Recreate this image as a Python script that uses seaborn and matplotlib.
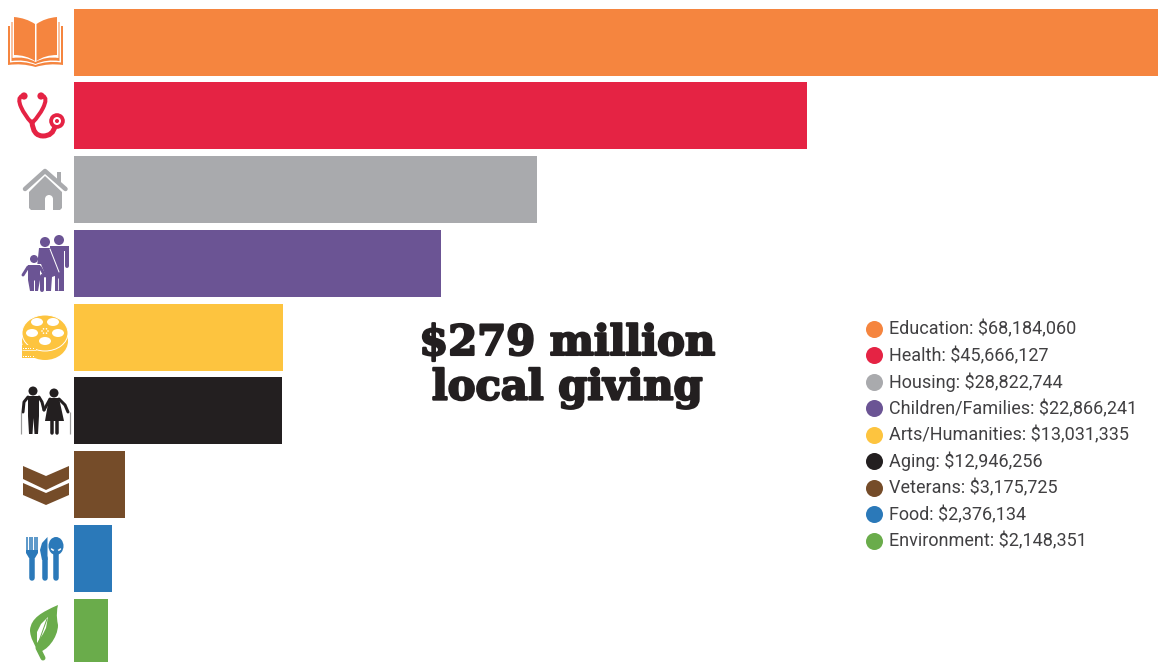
import numpy as np
import pandas as pd
import seaborn as sns
import matplotlib
matplotlib.use("Agg")
import matplotlib.pyplot as plt
from matplotlib.patches import Circle, Ellipse, Polygon, PathPatch, Rectangle
from matplotlib.path import Path
import matplotlib.patheffects as pe

categories = ['Education', 'Health', 'Housing', 'Children/Families', 'Arts/Humanities',
              'Aging', 'Veterans', 'Food', 'Environment']
amounts = [68184060, 45666127, 28822744, 22866241, 13031335, 12946256, 3175725, 2376134, 2148351]
colors = ['#F5853F', '#E52344', '#A9AAAD', '#6B5494', '#FDC43F', '#231F20', '#754C29', '#2B79B9', '#6AAC4B']
headline = '$279 million\nlocal giving'

W, H = 1158, 662
sns.set_theme(style="white")

fig = plt.figure(figsize=(W / 100, H / 100), dpi=100)
fig.patch.set_facecolor('white')

# bars run off the right edge of the page, same as the original
ax = fig.add_axes([74 / W, 0, (W - 74) / W, 1])
df = pd.DataFrame({'category': categories, 'amount': amounts})
sns.barplot(data=df, y='category', x='amount', hue='category', palette=colors,
            order=categories, hue_order=categories, dodge=False, width=0.908,
            saturation=1, legend=False, linewidth=0, ax=ax)
ax.set_xlim(0, 67.54e6)
ax.set_ylim(8.404, -0.572)
ax.axis('off')

# overlay in pixel coordinates for the icons and the headline
ov = fig.add_axes([0, 0, 1, 1], facecolor='none')
ov.set_xlim(0, W)
ov.set_ylim(H, 0)
ov.axis('off')


def line(pts, color, lw=3.0, cap='round'):
    xs, ys = zip(*pts)
    ov.plot(xs, ys, color=color, lw=lw * 0.72, solid_capstyle=cap, solid_joinstyle='round')


def poly(pts, color):
    ov.add_patch(Polygon(pts, closed=True, fc=color, ec='none'))


def curve(verts, codes, color, lw=None, fill=False):
    p = PathPatch(Path(verts, codes), fc=color if fill else 'none', ec=color if not fill else 'none',
                  lw=(lw or 1) * 0.72, capstyle='round')
    ov.add_patch(p)


def book(c):
    M, Q, L = Path.MOVETO, Path.CURVE3, Path.LINETO
    # cover
    curve([(8, 26), (8, 65), (22, 63), (35.5, 67), (49, 63), (63, 65), (63, 26), (8, 26)],
          [M, L, Q, Q, Q, Q, L, L], c, fill=True)
    # white gap between cover and sheets
    curve([(10, 23), (10, 62.5), (24, 60.5), (35.5, 65), (47, 60.5), (61, 62.5), (61, 23), (10, 23)],
          [M, L, Q, Q, Q, Q, L, L], 'white', fill=True)
    curve([(11.5, 22), (11.5, 61), (24, 59), (35.5, 64), (47, 59), (59.5, 61), (59.5, 22), (11.5, 22)],
          [M, L, Q, Q, Q, Q, L, L], c, fill=True)
    curve([(12.5, 20), (12.5, 58), (25, 56), (35.5, 62), (46, 56), (58.5, 58), (58.5, 20), (12.5, 20)],
          [M, L, Q, Q, Q, Q, L, L], 'white', fill=True)
    # pages
    curve([(14, 17), (26, 18), (35, 24), (35, 61), (26, 55), (14, 55), (14, 17)],
          [M, Q, Q, L, Q, Q, L], c, fill=True)
    curve([(57, 17), (45, 18), (36.5, 24), (36.5, 61), (45, 55), (57, 55), (57, 17)],
          [M, Q, Q, L, Q, Q, L], c, fill=True)


def stethoscope(c):
    M, Q = Path.MOVETO, Path.CURVE3
    curve([(22, 96), (17, 98), (21, 107), (25, 116), (31, 122)], [M, Q, Q, Q, Q], c, lw=4)
    curve([(43, 96), (48, 98), (43, 108), (39, 116), (33, 122)], [M, Q, Q, Q, Q], c, lw=4)
    curve([(32, 122), (33, 136), (43, 136), (53, 136), (55, 126)], [M, Q, Q, Q, Q], c, lw=5)
    ov.add_patch(Circle((24, 96), 3.6, fc=c, ec='none'))
    ov.add_patch(Circle((41, 96), 3.6, fc=c, ec='none'))
    ov.add_patch(Circle((57, 121), 7.8, fc=c, ec='none'))
    ov.add_patch(Circle((57, 121), 4, fc='white', ec='none'))
    ov.add_patch(Circle((57, 121), 2, fc=c, ec='none'))


def house(c):
    poly([(57, 172), (61, 172), (61, 185), (57, 182)], c)
    poly([(29, 192), (45, 176), (62, 192), (62, 208), (60, 210), (31, 210), (29, 208)], c)
    line([(25, 189), (45, 171), (65.5, 189)], c, lw=4.5)
    ov.add_patch(Rectangle((45, 199), 8, 11, fc='white', ec='none'))
    ov.add_patch(Circle((49, 199), 4, fc='white', ec='none'))


def family(c):
    # man
    ov.add_patch(Circle((59, 240), 5, fc=c, ec='none'))
    poly([(50, 246), (69, 246), (69, 251), (64, 251), (64, 291), (55, 291), (55, 270), (50, 252)], c)
    line([(67, 249), (67, 266)], c, lw=4)
    line([(58, 278), (58, 290)], 'white', lw=0.8, cap='butt')
    # woman
    ov.add_patch(Circle((45, 242), 5, fc=c, ec='none'))
    poly([(39, 248), (50, 248), (60, 274), (52, 277), (51, 291), (46, 291), (46, 277), (36, 277)], c)
    line([(50, 249), (59, 272)], 'white', lw=1)
    line([(42, 276), (42, 290)], c, lw=4)
    # child, white outline keeps it apart from the woman
    poly([(27, 264), (41, 264), (46, 277), (41, 291), (28, 291)], 'white')
    ov.add_patch(Circle((34, 259), 4, fc=c, ec='none'))
    poly([(28, 265), (40, 265), (40, 280), (38, 291), (30, 291), (28, 280)], c)
    line([(28, 267), (23, 275)], c, lw=3)
    line([(40, 267), (45, 276)], c, lw=3)
    line([(34, 280), (34, 291)], 'white', lw=1, cap='butt')


def reel(c):
    ov.add_patch(Ellipse((45, 341), 46, 38, fc=c, ec='none'))
    line([(22, 350), (36, 350)], 'white', lw=0.7, cap='butt')
    ov.add_patch(Ellipse((45, 333), 46, 36, fc=c, ec='white', lw=0.7))
    for x, y in [(37, 322), (53, 322), (32, 333), (58, 333), (45, 341)]:
        ov.add_patch(Ellipse((x, y), 12, 8, fc='white', ec='none'))
    for a in np.arange(0, 360, 60):
        ov.add_patch(Circle((45 + 3 * np.cos(np.radians(a)), 331 + 2.5 * np.sin(np.radians(a))),
                            0.8, fc='white', ec='none'))
    ov.add_patch(Rectangle((22, 345), 14, 13, fc=c, ec='none'))
    for y in (348, 356):
        for x in np.arange(23, 35, 2.4):
            ov.add_patch(Rectangle((x, y), 1.3, 1.3, fc='white', ec='none'))


def elders(c):
    # canes
    line([(20.5, 412), (20.5, 434)], '#9a9a9a', lw=1.2, cap='butt')
    line([(69.5, 412), (69.5, 434)], '#9a9a9a', lw=1.2, cap='butt')
    # man
    ov.add_patch(Circle((33, 391), 4.5, fc=c, ec='none'))
    poly([(28, 396), (39, 396), (39, 416), (38, 434), (34.5, 434), (33.5, 418),
          (32.5, 434), (29, 434), (28, 416)], c)
    line([(28, 397), (24, 402), (23, 412)], c, lw=3)
    line([(39, 397), (42, 402), (44, 410)], c, lw=3)
    # woman
    ov.add_patch(Circle((54, 393), 4.5, fc=c, ec='none'))
    poly([(49, 398), (59, 398), (64, 421), (45, 421)], c)
    line([(50, 399), (44, 410)], c, lw=3)
    line([(59, 399), (65, 405), (68, 412)], c, lw=3)
    line([(52, 420), (52, 433)], c, lw=3.5)
    line([(57, 420), (57, 433)], c, lw=3.5)


def chevrons(c):
    poly([(23, 466), (46, 476), (69, 466), (69, 479), (46, 490), (23, 479)], c)
    poly([(23, 483), (46, 493), (69, 483), (69, 495), (46, 505), (23, 495)], c)


def cutlery(c):
    # fork
    for x in (27, 29.5, 32, 34.5, 37):
        line([(x, 537), (x, 552)], c, lw=1.5, cap='butt')
    poly([(26, 550), (38, 550), (38, 553), (35, 558), (29, 558), (26, 553)], c)
    line([(32, 555), (32, 578)], c, lw=5.5)
    # knife
    poly([(47.5, 537), (47.5, 560), (42, 560), (40, 550), (42, 543)], c)
    line([(45, 558), (45, 578)], c, lw=5.5)
    # spoon
    ov.add_patch(Ellipse((56, 546), 15, 18, fc=c, ec='none'))
    line([(56, 552), (56, 578)], c, lw=5.5)
    M, Q = Path.MOVETO, Path.CURVE3
    curve([(51.5, 549), (56, 553), (60.5, 549)], [M, Q, Q], 'white', lw=1.5)


def leaf(c):
    M, C = Path.MOVETO, Path.CURVE4
    curve([(58, 605), (42, 612), (31, 618), (30, 630), (30, 638), (35, 645), (38, 652),
           (46, 652), (58, 638), (58, 625), (56, 615), (57, 610), (58, 605)],
          [M] + [C] * 12, c, fill=True)
    line([(38, 648), (43, 658)], c, lw=5)
    poly([(37, 643), (37, 632), (41, 624), (48, 617), (46, 628), (43, 634)], 'white')
    line([(38, 644), (47, 619)], c, lw=1)


icon_funcs = [book, stethoscope, house, family, reel, elders, chevrons, cutlery, leaf]
for func, col in zip(icon_funcs, colors):
    func(col)

ov.text(567, 365.5, headline, ha='center', va='center', family='DejaVu Serif',
        weight='bold', fontsize=30, color='#231F20', linespacing=1.08,
        path_effects=[pe.withStroke(linewidth=1.6, foreground='#231F20')])

# key on the right, one row per category
for i, (name, amount, col) in enumerate(zip(categories, amounts, colors)):
    y = 328.5 + 26.5 * i
    ov.scatter([874], [y], s=150, color=col, linewidths=0)
    ov.text(889, y + 6, '%s: $%s' % (name, format(amount, ',')), ha='left', va='baseline',
            family=['Roboto', 'DejaVu Sans'], fontsize=13, color='#414042')

fig.savefig('out.png', dpi=100)
